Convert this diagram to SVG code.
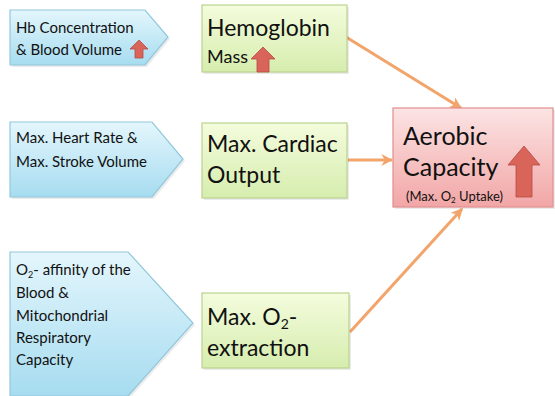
<svg xmlns="http://www.w3.org/2000/svg" width="555" height="396" viewBox="0 0 555 396">
<defs>
<linearGradient id="gb" x1="0" y1="0" x2="0" y2="1"><stop offset="0" stop-color="#E4F6FC"/><stop offset="1" stop-color="#A6DCF0"/></linearGradient>
<linearGradient id="gg" x1="0" y1="0" x2="0" y2="1"><stop offset="0" stop-color="#F4FCDD"/><stop offset="1" stop-color="#D6EDAE"/></linearGradient>
<linearGradient id="gr" x1="0" y1="0" x2="0" y2="1"><stop offset="0" stop-color="#FCE4E4"/><stop offset="1" stop-color="#F2A6A6"/></linearGradient>
<marker id="ah" viewBox="0 0 10 10" refX="9" refY="5" markerWidth="4" markerHeight="4" orient="auto" markerUnits="strokeWidth">
<path d="M0,0 L10,5 L0,10 L3,5 Z" fill="#F2A46A"/>
</marker>
</defs>
<style>
.blue{fill:url(#gb);stroke:#92C8DC;stroke-width:1.2}
.green{fill:url(#gg);stroke:#B9D38E;stroke-width:1.2}
.red{fill:url(#gr);stroke:#E28E8E;stroke-width:1.2}
.sh{fill:#000;opacity:0.08}
.t{font-family:Lato,"Liberation Sans",sans-serif;fill:#111}
.s{font-size:15px}
.m{font-size:23px}
.l{font-size:25px}
.conn{stroke:#F2A46A;stroke-width:3;fill:none;marker-end:url(#ah)}
.up{fill:#D9655A;stroke:#B84A42;stroke-width:0.8}
</style>
<rect width="555" height="396" fill="#fff"/>
<g id="connectors">
<line class="conn" x1="346" y1="37" x2="461" y2="108"/>
<line class="conn" x1="348" y1="160" x2="392" y2="160"/>
<line class="conn" x1="350" y1="332" x2="462" y2="209"/>
</g>
<g id="n1">
<polygon class="sh" points="12,12 147,12 170,39 147,67 12,67"/>
<polygon class="blue" points="10,10 145,10 168,37 145,65 10,65"/>
<text class="t s" x="16" y="33">Hb Concentration</text>
<text class="t s" x="16" y="55">&amp; Blood Volume</text>
<polygon class="up" points="139,40 148,49 143,49 143,58 135,58 135,49 130,49"/>
</g>
<g id="n2">
<polygon class="sh" points="12,124 154,124 185,161 154,199 12,199"/>
<polygon class="blue" points="10,122 152,122 183,159 152,197 10,197"/>
<text class="t s" x="16" y="143">Max. Heart Rate &amp;</text>
<text class="t s" x="16" y="167">Max. Stroke Volume</text>
</g>
<g id="n3">
<polygon class="sh" points="12,254 130,254 195,325 130,398 12,398"/>
<polygon class="blue" points="10,252 128,252 193,323 128,396 10,396"/>
<text class="t s" x="16" y="275">O<tspan font-size="9" dy="3">2</tspan><tspan dy="-3">- affinity of the</tspan></text>
<text class="t s" x="16" y="298">Blood &amp;</text>
<text class="t s" x="16" y="321">Mitochondrial</text>
<text class="t s" x="16" y="343">Respiratory</text>
<text class="t s" x="16" y="365">Capacity</text>
</g>
<g id="g1">
<rect class="sh" x="204" y="7" width="145" height="67"/>
<rect class="green" x="202" y="5" width="145" height="67"/>
<text class="t m" x="207" y="36">Hemoglobin</text>
<text class="t" x="207" y="63" font-size="18">Mass</text>
<polygon class="up" points="263,47 275,59 269,59 269,72 257,72 257,59 251,59"/>
</g>
<g id="g2">
<rect class="sh" x="204" y="125" width="145" height="75"/>
<rect class="green" x="202" y="123" width="145" height="75"/>
<text class="t m" x="207" y="152">Max. Cardiac</text>
<text class="t m" x="207" y="183">Output</text>
</g>
<g id="g3">
<rect class="sh" x="204" y="295" width="147" height="75"/>
<rect class="green" x="202" y="293" width="147" height="75"/>
<text class="t m" x="207" y="325">Max. O<tspan font-size="14" dy="4">2</tspan><tspan dy="-4">-</tspan></text>
<text class="t m" x="207" y="356">extraction</text>
</g>
<g id="target">
<rect class="sh" x="395" y="110" width="160" height="99"/>
<rect class="red" x="393" y="108" width="160" height="99"/>
<text class="t l" x="403" y="145">Aerobic</text>
<text class="t l" x="403" y="176">Capacity</text>
<text class="t" x="406" y="201" font-size="13">(Max. O<tspan font-size="8" dy="2">2</tspan><tspan dy="-2"> Uptake)</tspan></text>
<polygon class="up" points="524,146 540,165 532,165 532,197 516,197 516,165 508,165"/>
</g>
</svg>
